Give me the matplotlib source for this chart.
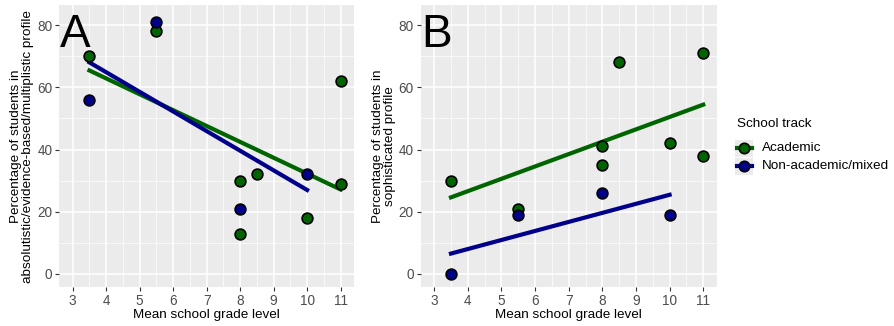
import numpy as np
import matplotlib
matplotlib.use("Agg")
import matplotlib.pyplot as plt
from matplotlib.patches import Rectangle
from matplotlib.lines import Line2D

plt.rcParams["font.family"] = ["Liberation Sans", "DejaVu Sans"]

# grade levels and percentages per school track
grade_acad = [3.5, 5.5, 8, 8, 8.5, 10, 11, 11]
grade_non = [3.5, 5.5, 8, 10]

pct_a_acad = [70, 78, 30, 13, 32, 18, 62, 29]
pct_a_non = [56, 81, 21, 32]

pct_b_acad = [30, 21, 41, 35, 68, 42, 71, 38]
pct_b_non = [0, 19, 26, 19]

tracks = ["Academic", "Non-academic/mixed"]
green = "#006400"
blue = "#00008B"

fig = plt.figure(figsize=(8.94, 3.26), dpi=100)
W, H = 894, 326


def panel(x0, x1, letter, acad, non, ylabel):
    ax = fig.add_axes([x0 / W, (H - 286.7) / H, (x1 - x0) / W, (286.7 - 5.5) / H])
    ax.set_facecolor("#EBEBEB")
    for s in ax.spines.values():
        s.set_visible(False)
    ax.set_xlim(2.6, 11.4)
    ax.set_ylim(-4.1, 86.3)
    ax.set_xticks(range(3, 12))
    ax.set_yticks([0, 20, 40, 60, 80])
    ax.set_xticks(np.arange(3.5, 11, 1), minor=True)
    ax.set_yticks([10, 30, 50, 70], minor=True)
    ax.grid(True, which="major", color="white", lw=1.1)
    ax.grid(True, which="minor", color="white", lw=0.5)
    ax.set_axisbelow(True)
    ax.tick_params(which="major", length=3, width=0.8, color="#333333",
                   labelsize=9.8, labelcolor="#4D4D4D", pad=2)
    ax.tick_params(which="minor", length=0)
    for xs, ys, c in [(grade_acad, acad, green), (grade_non, non, blue)]:
        k, b = np.polyfit(xs, ys, 1)
        xx = np.array([min(xs), max(xs)])
        ax.plot(xx, k * xx + b, color=c, lw=3, zorder=2)
    for xs, ys, c in [(grade_acad, acad, green), (grade_non, non, blue)]:
        ax.scatter(xs, ys, s=60, color=c, edgecolor="black", linewidth=1.2, zorder=3)
    ax.set_xlabel("Mean school grade level", fontsize=9.7, labelpad=1)
    ax.set_ylabel(ylabel, fontsize=9.7, labelpad=2, linespacing=1.0)
    ax.text(2.62, 72.8, letter, fontsize=33, va="baseline", ha="left", zorder=4)
    return ax


panel(59.3, 354, "A", pct_a_acad, pct_a_non,
      "Percentage of students in\nabsolutistic/evidence-based/multiplistic profile")
panel(420.7, 716.7, "B", pct_b_acad, pct_b_non,
      "Percentage of students in\nsophisticated profile")

# legend drawn by hand, ggplot style
fig.text(737 / W, 1 - 124 / H, "School track", fontsize=9.7, va="center", ha="left")
for i, (name, c) in enumerate(zip(tracks, [green, blue])):
    yc = 148 + 18 * i
    fig.add_artist(Rectangle((735 / W, 1 - (yc + 8.5) / H), 18 / W, 17 / H,
                             transform=fig.transFigure, facecolor="#EBEBEB",
                             edgecolor="none"))
    fig.add_artist(Line2D([736.5 / W, 751.5 / W], [1 - yc / H] * 2, color=c, lw=3,
                          transform=fig.transFigure))
    fig.add_artist(Line2D([744 / W], [1 - yc / H], marker="o", markersize=7.5,
                          markerfacecolor=c, markeredgecolor="black",
                          markeredgewidth=1.2, transform=fig.transFigure))
    fig.text(762 / W, 1 - yc / H, name, fontsize=9.7, va="center", ha="left")

fig.savefig("out.png", dpi=100)
